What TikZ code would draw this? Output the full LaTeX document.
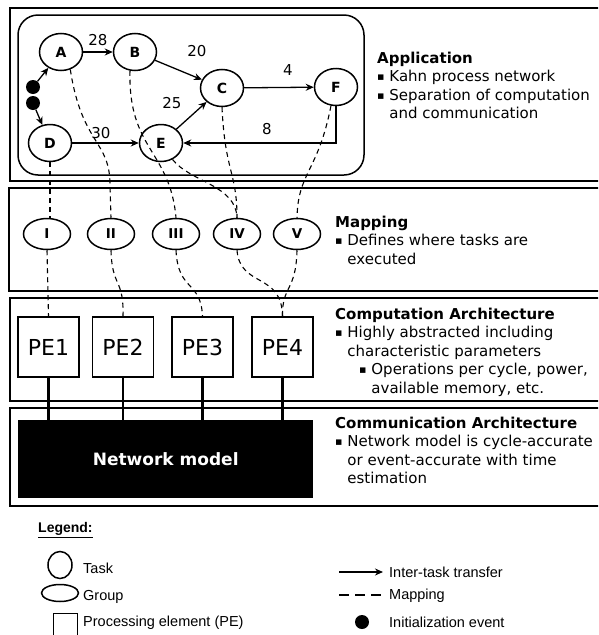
\documentclass[tikz,border=0pt]{standalone}
\usepackage{fontspec}
\setmainfont{DejaVu Sans}
\newfontfamily\legfont{Liberation Sans}
\usetikzlibrary{shapes.geometric,arrows.meta,calc}
\newcommand\bulsym{\raisebox{1pt}{\fontsize{11}{11}\selectfont ▪}\ }
\begin{document}
\begin{tikzpicture}[x=1pt,y=-1pt,
  panel/.style={draw,line width=2pt},
  task/.style={ellipse,draw,line width=1.5pt,minimum width=43pt,minimum height=37pt,inner sep=0pt,font=\fontsize{14}{14}\selectfont\bfseries},
  grp/.style={ellipse,draw,line width=1.5pt,minimum width=47pt,minimum height=31pt,inner sep=0pt,font=\fontsize{13.5}{14}\selectfont\bfseries},
  pe/.style={draw,line width=1.3pt,minimum width=61pt,minimum height=60pt,inner sep=0pt,font=\fontsize{22}{22}\selectfont},
  initdot/.style={circle,fill=black,minimum size=14pt,inner sep=0pt},
  flow/.style={line width=1.3pt,-{Stealth[length=8pt,width=7pt]}},
  mapline/.style={line width=1.1pt,dash pattern=on 5pt off 4pt},
  link/.style={line width=2.8pt},
  wlabel/.style={font=\fontsize{15}{15}\selectfont,inner sep=0pt},
  desc/.style={anchor=north west,align=left,inner sep=0pt,font=\fontsize{15}{18.5}\selectfont},
  legtext/.style={anchor=west,inner sep=0pt,font=\legfont\fontsize{14.5}{16}\selectfont},
]
\useasboundingbox (0,0) rectangle (598,635);
\clip (0,0) rectangle (598,635);

% panels
\draw[panel] (10,8) rectangle (620,181);
\draw[panel] (9,188) rectangle (620,291);
\draw[panel] (10,298) rectangle (620,401);
\draw[panel] (10,408) rectangle (620,506);
\draw[line width=1.5pt,rounded corners=20pt] (18,15) rectangle (364,175);

% tasks
\node[task] (A) at (61,52) {A};
\node[task] (B) at (135,52) {B};
\node[task] (C) at (222,88) {C};
\node[task] (F) at (336,87) {F};
\node[task] (D) at (50,143) {D};
\node[task] (E) at (161,143) {E};
\node[initdot] (i1) at (33,87) {};
\node[initdot] (i2) at (33,103) {};

\draw[flow] (i1) -- (A);
\draw[flow] (i2) -- (D);
\draw[flow] (A) -- (B);
\draw[flow] (B) -- (C);
\draw[flow] (C) -- (F);
\draw[flow] (E) -- (C);
\draw[flow] (D) -- (E);
\draw[flow] (F.south) |- (E.east);

\node[wlabel] (l28) at (98,40) {28};
\node[wlabel] (l20) at (197,51) {20};
\node[wlabel] (l4) at (288,70) {4};
\node[wlabel] (l25) at (172,103) {25};
\node[wlabel] (l30) at (101,133) {30};
\node[wlabel] (l8) at (267,129) {8};

% groups
\node[grp] (I) at (47,234) {I};
\node[grp] (II) at (111,234) {II};
\node[grp] (III) at (176,234) {III};
\node[grp] (IV) at (237,234) {IV};
\node[grp] (V) at (297,234) {V};

% PEs
\node[pe] (PE1) at (48.5,347) {PE1};
\node[pe] (PE2) at (123,347) {PE2};
\node[pe] (PE3) at (202.5,347) {PE3};
\node[pe] (PE4) at (282.5,347) {PE4};

% network model
\node[fill=black,minimum width=295pt,minimum height=78pt,anchor=north west,inner sep=0pt,text=white,font=\fontsize{17}{17}\selectfont\bfseries] (net) at (18,420) {Network model};
\foreach \p in {PE1,PE2,PE3,PE4} \draw[link] (\p.south) -- (\p.south |- net.north);

% mapping lines
\draw[mapline] (D.south) -- (D.south |- I.north);
\draw[mapline] (I.south) -- (PE1.north);
\draw[mapline] (A.-62) .. controls (82,145) and (110,140) .. (110,185) -- (II.north);
\draw[mapline] (II.south) .. controls (112,288) and (124,278) .. (PE2.north);
\draw[mapline] (B.-105) .. controls (128,150) and (170,150) .. (III.north);
\draw[mapline] (III.south) .. controls (178,292) and (201,280) .. (PE3.north);
\draw[mapline] (E.-55) .. controls (190,182) and (236,185) .. (IV.north);
\draw[mapline] (C.south) .. controls (225,172) and (237,172) .. (IV.north);
\draw[mapline] (F.-105) .. controls (318,172) and (298,172) .. (V.north);
\draw[mapline] (IV.south) .. controls (240,288) and (282,272) .. (PE4.north);
\draw[mapline] (V.south) .. controls (296,292) and (282,285) .. (PE4.north);

% descriptions
\node[desc] (apptext) at (377,51.5) {\textbf{Application}\\ \bulsym Kahn process network\\ \bulsym Separation of computation\\ \phantom{\bulsym}and communication};
\node[desc] (maptext) at (335,215.5) {\textbf{Mapping}\\ \bulsym Defines where tasks are\\ \phantom{\bulsym}executed};
\node[desc] (comptext) at (335,307.5) {\textbf{Computation Architecture}\\ \bulsym Highly abstracted including\\ \phantom{\bulsym}characteristic parameters\\ \hspace*{24pt}\bulsym Operations per cycle, power,\\ \hspace*{24pt}\phantom{\bulsym}available memory, etc.};
\node[desc] (commtext) at (335,416.5) {\textbf{Communication Architecture}\\ \bulsym Network model is cycle-accurate\\ \phantom{\bulsym}or event-accurate with time\\ \phantom{\bulsym}estimation};

% legend
\node[anchor=west,inner sep=0pt,font=\legfont\fontsize{14}{16}\selectfont\bfseries] (leg) at (38,530) {\underline{Legend:}};
\node[ellipse,draw,line width=1.5pt,minimum width=24pt,minimum height=27pt,inner sep=0pt] (lgtask) at (60,565) {};
\node[legtext] (lgtasktxt) at (83,568) {Task};
\node[ellipse,draw,line width=1.5pt,minimum width=37pt,minimum height=17pt,inner sep=0pt] (lggrp) at (60,593) {};
\node[legtext] (lggrptxt) at (83,597) {Group};
\node[draw,line width=1.3pt,minimum width=24pt,minimum height=26pt,inner sep=0pt,anchor=north west] (lgpe) at (53,613) {};
\node[legtext] (lgpetxt) at (83,623) {Processing element (PE)};
\node[legtext] (lgflowtxt) at (389,572) {Inter-task transfer};
\coordinate (lf0) at (339,572);
\draw[flow,shorten >=6pt] (lf0) -- (lgflowtxt.west);
\node[legtext] (lgmaptxt) at (389,596) {Mapping};
\coordinate (lm0) at (339,595);
\draw[line width=2pt,dash pattern=on 10pt off 6pt] (lm0) -- ($(lgmaptxt.west)+(-7,-1)$);
\node[initdot] (lgdot) at (362,622) {};
\node[legtext] (lgdottxt) at (389,622) {Initialization event};
\end{tikzpicture}
\end{document}
